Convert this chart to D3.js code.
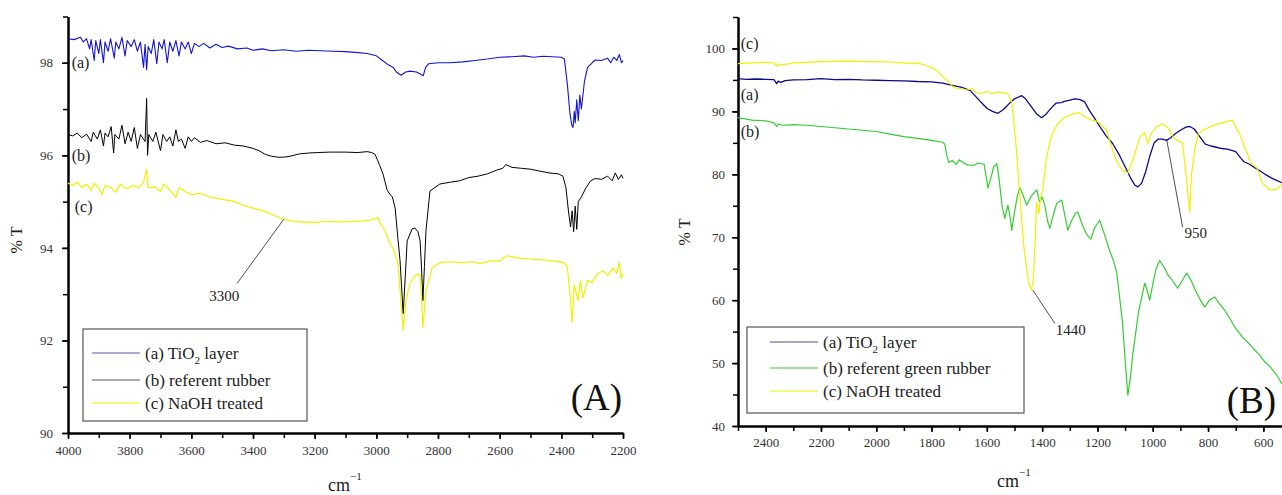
<!DOCTYPE html>
<html>
<head>
<meta charset="utf-8">
<script src="https://cdn.jsdelivr.net/npm/d3@7"></script>
<style>
  body { margin: 0; background: #fff; }
  text { font-family: "Liberation Serif", "Times New Roman", serif; }
</style>
</head>
<body>
<svg></svg>
<script>
// ---- panel A data: [wavenumber, %T] ----
const tio2A = [
  [4000, 98.52], [3980, 98.50], [3960, 98.55], [3950, 98.45], [3940, 98.52], [3930, 98.30], [3925, 98.50],
  [3915, 98.05], [3910, 98.48], [3900, 98.20], [3895, 98.50], [3885, 98.00], [3880, 98.45], [3870, 98.25],
  [3862, 98.52], [3850, 98.10], [3845, 98.45], [3835, 98.30], [3825, 98.55], [3815, 98.15], [3808, 98.48],
  [3795, 98.35], [3785, 98.50], [3775, 98.25], [3765, 98.45], [3755, 97.90], [3750, 98.40], [3745, 97.85],
  [3740, 98.35], [3730, 98.20], [3722, 98.50], [3712, 97.98], [3705, 98.45], [3695, 98.30], [3688, 98.50],
  [3678, 98.00], [3670, 98.45], [3660, 98.25], [3650, 98.48], [3640, 98.15], [3632, 98.45], [3620, 98.30],
  [3610, 98.45], [3600, 98.20], [3590, 98.42], [3575, 98.35], [3560, 98.42], [3540, 98.32], [3520, 98.40],
  [3500, 98.33], [3480, 98.36], [3450, 98.30], [3420, 98.32], [3400, 98.27], [3370, 98.30], [3340, 98.26],
  [3300, 98.28], [3260, 98.25], [3220, 98.27], [3180, 98.26], [3140, 98.25], [3100, 98.24], [3060, 98.22],
  [3030, 98.20], [3000, 98.15], [2980, 98.05], [2960, 97.95], [2945, 97.90], [2935, 97.80], [2920, 97.73],
  [2905, 97.80], [2890, 97.82], [2870, 97.80], [2855, 97.75], [2848, 97.72], [2840, 97.90], [2830, 97.98],
  [2800, 98.00], [2760, 98.00], [2720, 98.02], [2680, 98.05], [2640, 98.08], [2600, 98.12], [2560, 98.13],
  [2520, 98.15], [2490, 98.12], [2460, 98.14], [2430, 98.13], [2400, 98.12], [2390, 98.08], [2380, 97.50],
  [2372, 96.90], [2366, 96.65], [2362, 96.60], [2358, 96.95], [2355, 96.70], [2350, 97.20], [2345, 96.75],
  [2340, 97.30], [2335, 97.00], [2325, 97.60], [2315, 97.90], [2300, 98.00], [2290, 98.06], [2270, 98.05],
  [2250, 98.10], [2240, 98.00], [2230, 98.12], [2220, 98.05], [2212, 98.18], [2205, 98.00], [2200, 98.05]
]

const rubberA = [
  [4000, 96.45], [3985, 96.42], [3970, 96.48], [3955, 96.38], [3940, 96.46], [3925, 96.30], [3918, 96.50],
  [3905, 96.35], [3895, 96.55], [3885, 96.20], [3880, 96.48], [3870, 96.40], [3860, 96.62], [3852, 96.05],
  [3848, 96.45], [3835, 96.35], [3825, 96.65], [3815, 96.25], [3805, 96.50], [3795, 96.30], [3785, 96.60],
  [3775, 96.15], [3765, 96.45], [3750, 96.30], [3745, 97.23], [3742, 96.00], [3738, 96.45], [3725, 96.30],
  [3715, 96.50], [3700, 96.10], [3692, 96.45], [3680, 96.30], [3670, 96.40], [3660, 96.20], [3650, 96.55],
  [3642, 96.30], [3632, 96.35], [3620, 96.15], [3610, 96.40], [3600, 96.30], [3590, 96.38], [3570, 96.28],
  [3550, 96.32], [3520, 96.25], [3490, 96.27], [3460, 96.22], [3430, 96.20], [3400, 96.15], [3380, 96.10],
  [3360, 96.02], [3340, 95.98], [3320, 95.96], [3300, 95.96], [3280, 95.98], [3250, 96.03], [3220, 96.05],
  [3190, 96.06], [3150, 96.07], [3100, 96.07], [3060, 96.06], [3030, 96.08], [3015, 96.06], [3004, 96.02],
  [2990, 95.80], [2978, 95.59], [2965, 95.25], [2956, 95.16], [2948, 95.10], [2939, 94.86], [2930, 94.20],
  [2923, 93.72], [2913, 92.58], [2906, 93.40], [2900, 94.15], [2884, 94.41], [2875, 94.43], [2865, 94.35],
  [2858, 94.15], [2853, 93.50], [2849, 92.86], [2844, 93.60], [2839, 94.37], [2826, 95.23], [2794, 95.38],
  [2760, 95.42], [2730, 95.45], [2700, 95.52], [2670, 95.55], [2640, 95.60], [2610, 95.68], [2590, 95.72],
  [2580, 95.80], [2560, 95.74], [2530, 95.72], [2500, 95.70], [2470, 95.66], [2440, 95.62], [2410, 95.60],
  [2395, 95.55], [2385, 95.30], [2377, 94.80], [2370, 94.45], [2365, 94.80], [2360, 94.35], [2355, 94.90],
  [2350, 94.40], [2345, 95.00], [2335, 95.10], [2320, 95.30], [2305, 95.45], [2290, 95.50], [2270, 95.48],
  [2250, 95.55], [2235, 95.45], [2225, 95.62], [2215, 95.48], [2205, 95.58], [2200, 95.50]
]

const naohA = [
  [4000, 95.40], [3985, 95.35], [3970, 95.42], [3955, 95.30], [3940, 95.38], [3925, 95.25], [3915, 95.40],
  [3900, 95.28], [3890, 95.15], [3880, 95.35], [3860, 95.30], [3845, 95.20], [3830, 95.38], [3810, 95.28],
  [3790, 95.35], [3770, 95.30], [3755, 95.42], [3745, 95.70], [3740, 95.30], [3720, 95.32], [3700, 95.22],
  [3690, 95.38], [3670, 95.25], [3650, 95.10], [3640, 95.30], [3620, 95.22], [3600, 95.15], [3572, 95.18],
  [3540, 95.10], [3500, 95.05], [3465, 95.01], [3430, 94.92], [3400, 94.86], [3367, 94.80], [3330, 94.70],
  [3303, 94.62], [3270, 94.58], [3248, 94.56], [3200, 94.55], [3160, 94.57], [3100, 94.56], [3050, 94.58],
  [3020, 94.60], [2995, 94.65], [2988, 94.54], [2972, 94.37], [2956, 94.09], [2946, 94.00], [2930, 93.66],
  [2923, 93.08], [2913, 92.22], [2904, 92.86], [2891, 93.23], [2875, 93.40], [2865, 93.44], [2858, 93.40],
  [2853, 92.90], [2849, 92.28], [2839, 93.08], [2819, 93.57], [2794, 93.68], [2760, 93.70], [2720, 93.68],
  [2690, 93.70], [2664, 93.66], [2630, 93.72], [2599, 93.72], [2576, 93.83], [2540, 93.78], [2502, 93.76],
  [2460, 93.74], [2427, 93.72], [2394, 93.68], [2381, 93.61], [2372, 93.00], [2365, 92.39], [2358, 93.20],
  [2346, 92.86], [2338, 93.30], [2330, 92.92], [2315, 93.30], [2300, 93.25], [2284, 93.44], [2265, 93.50],
  [2250, 93.40], [2232, 93.57], [2220, 93.45], [2212, 93.68], [2206, 93.35], [2200, 93.44]
]

// ---- panel B data ----
const tio2B = [
  [2500, 95.2], [2470, 95.1], [2440, 95.15], [2400, 95.1], [2370, 95.05], [2360, 94.4], [2355, 94.8],
  [2345, 94.6], [2330, 94.9], [2300, 95.0], [2250, 95.05], [2200, 95.2], [2150, 95.05], [2100, 95.1],
  [2050, 95.0], [2000, 94.95], [1950, 94.9], [1900, 94.85], [1850, 94.75], [1800, 94.7], [1760, 94.5],
  [1720, 94.1], [1690, 93.8], [1660, 93.3], [1643, 92.5], [1620, 91.4], [1600, 90.5], [1580, 90.0],
  [1560, 89.7], [1540, 90.3], [1520, 91.2], [1500, 92.0], [1474, 92.5], [1460, 92.0], [1440, 90.8],
  [1420, 89.6], [1402, 89.0], [1385, 89.6], [1366, 90.6], [1350, 91.3], [1330, 91.4], [1320, 91.6],
  [1300, 91.8], [1282, 92.0], [1265, 91.9], [1246, 91.5], [1230, 90.2], [1210, 88.9], [1190, 87.5],
  [1170, 86.2], [1145, 84.9], [1120, 83.0], [1100, 81.2], [1080, 79.4], [1065, 78.3], [1054, 78.0],
  [1040, 78.6], [1025, 80.5], [1010, 83.0], [995, 85.0], [980, 85.6], [965, 85.6], [950, 85.4],
  [935, 85.8], [920, 86.4], [900, 87.0], [880, 87.5], [866, 87.6], [850, 87.2], [830, 86.0],
  [810, 84.8], [790, 84.5], [770, 84.3], [750, 84.1], [730, 84.0], [700, 83.6], [680, 82.5],
  [670, 82.0], [650, 81.6], [630, 81.0], [614, 80.6], [590, 79.9], [570, 79.4], [550, 79.0],
  [534, 78.7], [520, 78.3], [500, 77.9]
]

const greenB = [
  [2500, 89.0], [2450, 88.6], [2400, 88.5], [2370, 88.2], [2360, 87.6], [2355, 88.0], [2340, 87.8],
  [2300, 87.9], [2250, 87.8], [2200, 87.6], [2150, 87.4], [2100, 87.2], [2050, 87.0], [2000, 86.8],
  [1950, 86.4], [1900, 86.0], [1850, 85.7], [1800, 85.4], [1760, 85.1], [1752, 84.8], [1745, 83.0],
  [1738, 81.9], [1725, 82.2], [1710, 81.6], [1700, 82.3], [1690, 82.0], [1670, 81.5], [1650, 81.4],
  [1630, 81.8], [1610, 81.6], [1600, 79.0], [1596, 77.8], [1585, 79.5], [1575, 81.2], [1564, 81.7],
  [1555, 79.0], [1545, 75.0], [1535, 73.0], [1524, 75.1], [1515, 73.0], [1510, 71.1], [1500, 74.0],
  [1490, 76.5], [1481, 77.9], [1470, 76.8], [1456, 75.1], [1440, 76.5], [1425, 77.3], [1419, 77.5],
  [1410, 75.6], [1400, 76.4], [1390, 75.0], [1380, 72.5], [1372, 71.4], [1360, 73.5], [1347, 75.4],
  [1329, 75.9], [1318, 73.5], [1307, 71.1], [1295, 72.5], [1280, 73.8], [1271, 74.0], [1255, 72.0],
  [1240, 70.5], [1224, 69.7], [1210, 71.5], [1192, 72.7], [1175, 70.5], [1156, 67.9], [1140, 66.0],
  [1130, 64.3], [1120, 60.5], [1109, 56.3], [1100, 50.5], [1090, 44.9], [1080, 48.0], [1072, 51.5],
  [1065, 53.7], [1052, 58.0], [1040, 60.5], [1029, 62.7], [1020, 61.5], [1011, 60.0], [1000, 62.5],
  [988, 65.0], [975, 66.3], [960, 65.3], [945, 64.0], [930, 63.2], [910, 61.9], [895, 63.0],
  [877, 64.3], [860, 63.0], [845, 61.5], [825, 59.8], [812, 58.9], [795, 60.0], [776, 60.5],
  [760, 59.5], [740, 58.4], [720, 57.0], [700, 55.5], [675, 54.1], [650, 53.0], [630, 52.0],
  [614, 51.3], [595, 50.2], [575, 49.4], [555, 48.3], [534, 46.8], [500, 45.0]
]

const naohB = [
  [2500, 97.6], [2450, 97.7], [2400, 97.8], [2370, 97.7], [2360, 97.2], [2355, 97.5], [2340, 97.4],
  [2300, 97.7], [2250, 97.8], [2200, 97.9], [2150, 97.95], [2100, 98.0], [2050, 97.9], [2000, 97.9],
  [1950, 97.85], [1900, 97.7], [1870, 97.6], [1850, 97.7], [1820, 97.3], [1800, 97.0], [1780, 96.4],
  [1760, 95.6], [1740, 94.8], [1725, 94.0], [1710, 93.7], [1690, 93.6], [1670, 93.4], [1655, 93.6],
  [1640, 93.0], [1620, 92.8], [1600, 93.2], [1580, 92.8], [1560, 93.1], [1540, 92.9], [1524, 92.8],
  [1510, 91.5], [1495, 85.0], [1480, 76.0], [1465, 68.0], [1450, 63.0], [1440, 61.6], [1432, 63.0],
  [1425, 70.0], [1420, 75.5], [1412, 73.8], [1405, 76.5], [1398, 77.5], [1385, 82.5], [1370, 85.5],
  [1362, 86.5], [1345, 88.0], [1320, 89.0], [1290, 89.6], [1264, 89.8], [1240, 89.0], [1220, 88.6],
  [1200, 88.4], [1180, 87.6], [1167, 87.0], [1150, 84.5], [1130, 82.0], [1109, 80.6], [1090, 80.2],
  [1070, 82.5], [1047, 85.9], [1030, 86.6], [1018, 84.9], [1005, 86.5], [985, 87.6], [964, 88.0],
  [945, 87.4], [930, 86.2], [913, 85.4], [900, 85.2], [892, 85.0], [880, 80.0], [866, 74.0],
  [860, 80.0], [855, 81.5], [848, 84.0], [835, 86.5], [819, 87.0], [790, 87.6], [758, 88.1],
  [730, 88.4], [711, 88.6], [700, 87.5], [686, 86.5], [668, 84.3], [645, 81.8], [624, 81.1],
  [603, 78.6], [577, 77.5], [555, 77.6], [541, 78.0], [520, 79.0], [500, 79.8]
]

// axis ticks
const ticksAx = [4000, 3800, 3600, 3400, 3200, 3000, 2800, 2600, 2400, 2200]
const ticksAy = [90, 92, 94, 96, 98]
const ticksBx = [2400, 2200, 2000, 1800, 1600, 1400, 1200, 1000, 800, 600]
const ticksBy = [40, 50, 60, 70, 80, 90, 100]

const legendA = ["(a) TiO|2| layer", "(b) referent rubber", "(c) NaOH treated"]
const legendB = ["(a) TiO|2| layer", "(b) referent green rubber", "(c) NaOH treated"]

const width = 1282
const height = 495

const svg = d3.select('svg')
  .attr('width', width)
  .attr('height', height)

// draws one panel: axes, traces, legend, labels
const drawPanel = (p) => {
  const x = d3.scaleLinear().domain(p.xDomain).range(p.xRange)
  const y = d3.scaleLinear().domain(p.yDomain).range(p.yRange)
  const g = svg.append('g')

  // minor ticks first, then major with labels
  const xMinor = d3.range(p.xDomain[0], p.xDomain[1] - 1, -p.xStep / 2)
  const yMinor = d3.range(p.yDomain[0], p.yDomain[1] + 0.01, p.yStep / 2)

  g.append('g')
    .attr('transform', `translate(0,${p.yRange[0]})`)
    .call(d3.axisBottom(x).tickValues(xMinor).tickFormat('').tickSize(5).tickSizeOuter(0))
  g.append('g')
    .attr('transform', `translate(${p.xRange[0]},0)`)
    .call(d3.axisLeft(y).tickValues(yMinor).tickFormat('').tickSize(5).tickSizeOuter(0))

  g.append('g')
    .attr('transform', `translate(0,${p.yRange[0]})`)
    .call(d3.axisBottom(x).tickValues(p.xTicks).tickFormat(d3.format('d'))
      .tickSize(6).tickPadding(p.xPad).tickSizeOuter(0))
  g.append('g')
    .attr('transform', `translate(${p.xRange[0]},0)`)
    .call(d3.axisLeft(y).tickValues(p.yTicks).tickFormat(d3.format('d'))
      .tickSize(6).tickPadding(p.yPad).tickSizeOuter(0))

  g.selectAll('.domain').attr('stroke', '#000').attr('stroke-width', 2)
  g.selectAll('.tick line').attr('stroke', '#000').attr('stroke-width', 1.5)
  g.selectAll('.tick text')
    .attr('font-family', '"Liberation Serif", serif')
    .attr('font-size', 13)
    .attr('fill', '#333')

  // spectra
  const line = d3.line().x(d => x(d[0])).y(d => y(d[1]))
  p.series.forEach(s => {
    g.append('path')
      .datum(s.data)
      .attr('fill', 'none')
      .attr('stroke', s.color)
      .attr('stroke-width', s.w || 1)
      .attr('stroke-linejoin', 'round')
      .attr('d', line)
  })

  // curve tags (a) (b) (c)
  p.tags.forEach(t => {
    g.append('text')
      .attr('x', x(t.wn))
      .attr('y', y(t.v))
      .attr('dy', '0.35em')
      .attr('font-size', 16)
      .attr('fill', '#222')
      .text(t.label)
  })

  // peak annotations
  p.notes.forEach(n => {
    g.append('line')
      .attr('x1', x(n.from[0])).attr('y1', y(n.from[1]))
      .attr('x2', x(n.to[0])).attr('y2', y(n.to[1]))
      .attr('stroke', '#222').attr('stroke-width', 0.8)
    g.append('text')
      .attr('x', x(n.text[0]))
      .attr('y', y(n.text[1]))
      .attr('text-anchor', n.anchor)
      .attr('font-size', 15)
      .attr('fill', '#222')
      .text(n.label)
  })

  // legend box
  const lg = g.append('g').attr('transform', `translate(${p.legend.x},${p.legend.y})`)
  lg.append('rect')
    .attr('width', p.legend.w).attr('height', p.legend.h)
    .attr('fill', '#fff').attr('stroke', '#555').attr('stroke-width', 1.2)
  p.legend.items.forEach((txt, i) => {
    const ry = p.legend.rows[i]
    lg.append('line')
      .attr('x1', p.legend.lx).attr('x2', p.legend.lx + 48)
      .attr('y1', ry).attr('y2', ry)
      .attr('stroke', p.series[i].legendColor || p.series[i].color).attr('stroke-width', 1)
    const parts = txt.split('|')
    const tx = lg.append('text')
      .attr('x', p.legend.lx + 53).attr('y', ry).attr('dy', '0.35em')
      .attr('font-size', 17).attr('fill', '#222')
    tx.append('tspan').text(parts[0])
    if (parts.length > 1) {
      tx.append('tspan').attr('font-size', 11).attr('dy', 5).text(parts[1])
      tx.append('tspan').attr('dy', -5).text(parts[2])
    }
  })

  // panel letter
  g.append('text')
    .attr('x', p.letter.x).attr('y', p.letter.y)
    .attr('text-anchor', 'end')
    .attr('font-size', 37).attr('fill', '#111')
    .text(p.letter.text)

  // axis titles
  g.append('text')
    .attr('transform', `translate(${p.yTitle.x},${p.yTitle.y}) rotate(-90)`)
    .attr('text-anchor', 'middle')
    .attr('font-size', 16).attr('fill', '#222')
    .text('% T')
  const xt = g.append('text')
    .attr('x', p.xTitle.x).attr('y', p.xTitle.y)
    .attr('font-size', 18).attr('fill', '#222')
  xt.append('tspan').text('cm')
  xt.append('tspan').attr('font-size', 11).attr('dy', -11).text('\u22121')
}

drawPanel({
  xDomain: [4000, 2200], xRange: [68, 623], xStep: 200, xTicks: ticksAx, xPad: 7,
  yDomain: [90, 99], yRange: [433, 16.5], yStep: 2, yTicks: ticksAy, yPad: 9,
  series: [
    { data: tio2A, color: '#1414d2', legendColor: '#5a5aa8', w: 1.1 },
    { data: rubberA, color: '#000000', legendColor: '#555', w: 1 },
    { data: naohA, color: '#f0f000', w: 1.2 }
  ],
  tags: [
    { wn: 3988, v: 98, label: '(a)' },
    { wn: 3988, v: 96, label: '(b)' },
    { wn: 3978, v: 94.9, label: '(c)' }
  ],
  notes: [
    { from: [3300, 94.62], to: [3452, 93.23], text: [3445, 92.86], anchor: 'end', label: '3300' }
  ],
  legend: { x: 83, y: 329, w: 224, h: 92, lx: 9, rows: [24, 51, 74], items: legendA },
  letter: { x: 622, y: 410, text: '(A)' },
  yTitle: { x: 22, y: 240 },
  xTitle: { x: 328, y: 491 }
})

drawPanel({
  xDomain: [2500, 500], xRange: [738, 1291], xStep: 200, xTicks: ticksBx, xPad: 6,
  yDomain: [40, 105], yRange: [426, 17], yStep: 10, yTicks: ticksBy, yPad: 7,
  series: [
    { data: tio2B, color: '#0a0a8a', legendColor: '#4a4a90', w: 1.3 },
    { data: greenB, color: '#33cc33', w: 1.2 },
    { data: naohB, color: '#f0f000', w: 1.2 }
  ],
  tags: [
    { wn: 2490, v: 100.8, label: '(c)' },
    { wn: 2490, v: 92.7, label: '(a)' },
    { wn: 2490, v: 86.8, label: '(b)' }
  ],
  notes: [
    { from: [1434, 61.6], to: [1354, 56.3], text: [1351, 54.4], anchor: 'start', label: '1440' },
    { from: [950, 85.6], to: [892, 71.6], text: [885, 69.8], anchor: 'start', label: '950' }
  ],
  legend: { x: 747, y: 327, w: 277, h: 86, lx: 23, rows: [15, 41, 64], items: legendB },
  letter: { x: 1276, y: 413, text: '(B)' },
  yTitle: { x: 690, y: 232 },
  xTitle: { x: 997, y: 487 }
})
</script>
</body>
</html>
